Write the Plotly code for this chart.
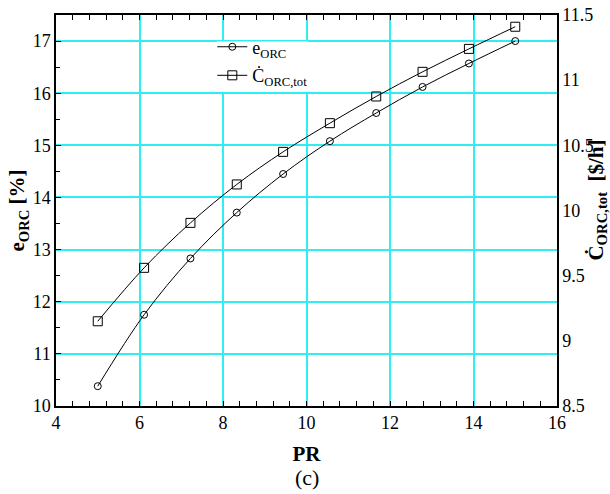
import plotly.graph_objects as go

pr = [5.0, 6.11, 7.22, 8.33, 9.44, 10.56, 11.67, 12.78, 13.89, 15.0]
e_orc = [10.38, 11.75, 12.83, 13.71, 14.45, 15.08, 15.62, 16.12, 16.57, 17.0]
c_orc_tot = [9.15, 9.56, 9.905, 10.20, 10.45, 10.67, 10.875, 11.064, 11.24, 11.41]

FONT = "Liberation Serif, Times New Roman, serif"
GRID = "#2EEEF2"
TICKFONT = dict(family=FONT, size=18, color="black")
LEGFONT = dict(family=FONT, size=18, color="black")
CLEAR = "rgba(0,0,0,0)"

fig = go.Figure()
fig.add_trace(go.Scatter(
    x=pr, y=e_orc, mode="lines+markers", name="e<sub>ORC</sub>",
    line=dict(color="black", width=1, shape="spline"),
    marker=dict(symbol="circle-open", size=7, color="black", line=dict(width=1)),
    yaxis="y", legend="legend"))
fig.add_trace(go.Scatter(
    x=pr, y=c_orc_tot, mode="lines+markers", name="Ċ<sub>ORC,tot</sub>",
    line=dict(color="black", width=1, shape="spline"),
    marker=dict(symbol="square-open", size=9, color="black", line=dict(width=1)),
    yaxis="y2", legend="legend2"))

fig.update_layout(
    width=610, height=494,
    margin=dict(l=56, r=53, t=15, b=88),
    paper_bgcolor="white", plot_bgcolor="white",
    font=dict(family=FONT, size=17, color="black"),
    showlegend=True,
    legend=dict(x=0.312, y=0.918, xanchor="left", yanchor="middle",
                bgcolor=CLEAR, borderwidth=0, font=LEGFONT, itemwidth=30),
    legend2=dict(x=0.312, y=0.845, xanchor="left", yanchor="middle",
                 bgcolor=CLEAR, borderwidth=0, font=LEGFONT, itemwidth=30),
    shapes=[dict(type="rect", xref="paper", yref="paper",
                 x0=0.321, x1=0.503, y0=0.803, y1=0.932,
                 fillcolor="white", line=dict(width=0), layer="above")],
    xaxis=dict(range=[4, 16], tickmode="linear", tick0=4, dtick=2,
               tickfont=TICKFONT,
               showgrid=True, gridcolor=GRID, gridwidth=1.5,
               showline=True, linecolor="black", linewidth=1.5, mirror="allticks",
               ticks="inside", ticklen=5, tickwidth=1.2, tickcolor="black",
               minor=dict(tick0=4, dtick=0.4, ticks="inside", ticklen=4, tickwidth=1.2,
                          tickcolor="black", showgrid=False),
               zeroline=False, automargin=False,
               title=dict(text="<b>PR</b>", font=dict(family=FONT, size=21), standoff=14)),
    yaxis=dict(range=[9.9999, 17.5], tickmode="linear", tick0=10, dtick=1,
               tickfont=TICKFONT,
               showgrid=True, gridcolor=GRID, gridwidth=1.5,
               showline=True, linecolor="black", linewidth=1.5, mirror=True,
               ticks="inside", ticklen=5, tickwidth=1.2, tickcolor="black",
               minor=dict(tick0=10, dtick=0.5, ticks="inside", ticklen=4, tickwidth=1.2,
                          tickcolor="black", showgrid=False),
               zeroline=False, automargin=False,
               title=dict(text="<b>e<sub>ORC</sub> [%]</b>", font=dict(family=FONT, size=21), standoff=2)),
    yaxis2=dict(range=[8.4999, 11.5001], tickmode="linear", tick0=8.5, dtick=0.5,
                tickfont=TICKFONT, ticklabeloverflow="allow",
                overlaying="y", side="right", showgrid=False,
                showline=True, linecolor="black", linewidth=1.5,
                ticks="", zeroline=False, automargin=False,
                title=dict(text="&nbsp;&nbsp;&nbsp;&nbsp;<b>Ċ<sub>ORC,tot</sub>  [$/h]</b>",
                           font=dict(family=FONT, size=21), standoff=0)),
    annotations=[dict(text="(c)", xref="paper", yref="paper", x=0.5, y=-0.184,
                      xanchor="center", yanchor="middle", showarrow=False,
                      font=dict(family=FONT, size=22, color="black"))],
)

fig.write_html("out.html", config={"displayModeBar": False},
               post_script="document.body.style.margin='0';")
